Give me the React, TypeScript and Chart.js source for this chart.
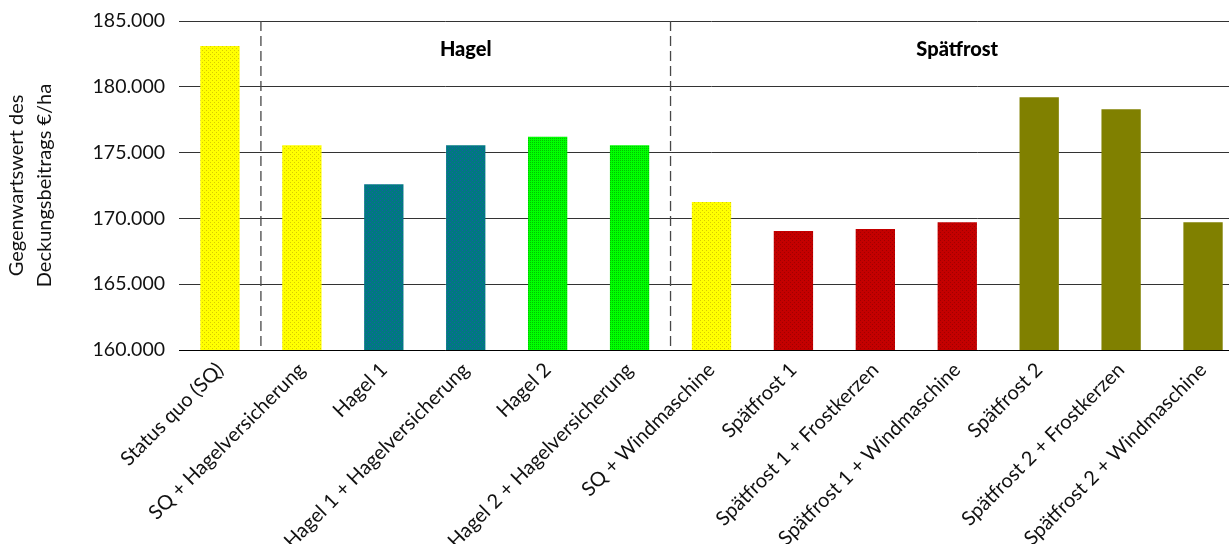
import React, { useEffect, useRef } from "react";
import { Chart, registerables } from "chart.js";

Chart.register(...registerables);

const categories = [
  "Status quo (SQ)",
  "SQ + Hagelversicherung",
  "Hagel 1",
  "Hagel 1 + Hagelversicherung",
  "Hagel 2",
  "Hagel 2 + Hagelversicherung",
  "SQ + Windmaschine",
  "Spätfrost 1",
  "Spätfrost 1 + Frostkerzen",
  "Spätfrost 1 + Windmaschine",
  "Spätfrost 2",
  "Spätfrost 2 + Frostkerzen",
  "Spätfrost 2 + Windmaschine",
];

const values = [
  183100, 175550, 172600, 175550, 176200, 175550, 171250, 169050, 169200,
  169700, 179200, 178300, 169700,
];

const colorKeys = [
  "yellow", "yellow", "teal", "teal", "green", "green", "yellow",
  "red", "red", "red", "olive", "olive", "olive",
];

const yTicks = { min: 160000, max: 185000, step: 5000 };

const yTitle = ["Gegenwartswert des", "Deckungsbeitrags €/ha"];

const groupTitles = ["Hagel", "Spätfrost"];
const groupRanges = [
  [1, 5],
  [6, 12],
];
const separatorsAfter = [0, 5];

function makePattern(base: string, dot: string, vertical = false) {
  const c = document.createElement("canvas");
  c.width = 4;
  c.height = 4;
  const g = c.getContext("2d")!;
  g.fillStyle = base;
  g.fillRect(0, 0, 4, 4);
  g.fillStyle = dot;
  if (vertical) {
    g.fillRect(0, 0, 1, 1);
    g.fillRect(0, 2, 1, 1);
    g.fillRect(2, 0, 1, 1);
    g.fillRect(2, 2, 1, 1);
  } else {
    g.fillRect(0, 0, 1, 1);
    g.fillRect(2, 2, 1, 1);
  }
  return g.createPattern(c, "repeat")!;
}

function formatDE(v: number) {
  return String(v).replace(/\B(?=(\d{3})+(?!\d))/g, ".");
}

const groupPlugin = {
  id: "groups",
  beforeDatasetsDraw(chart: any) {
    const { ctx, chartArea, scales } = chart;
    const x = scales.x;
    ctx.save();
    ctx.strokeStyle = "#484848";
    ctx.lineWidth = 1.3;
    ctx.setLineDash([10, 5]);
    separatorsAfter.forEach((i) => {
      const px = (x.getPixelForValue(i) + x.getPixelForValue(i + 1)) / 2;
      ctx.beginPath();
      ctx.moveTo(px, chartArea.top);
      ctx.lineTo(px, chartArea.bottom - 4);
      ctx.stroke();
    });
    ctx.setLineDash([]);
    ctx.fillStyle = "#000";
    ctx.font = "900 20px Lato";
    ctx.textAlign = "center";
    ctx.textBaseline = "middle";
    groupTitles.forEach((t, gi) => {
      const [a, b] = groupRanges[gi];
      const px = (x.getPixelForValue(a) + x.getPixelForValue(b)) / 2;
      ctx.fillText(t, px, chartArea.top + 29);
    });
    ctx.restore();
  },
};

export default function App() {
  const ref = useRef<HTMLCanvasElement>(null);
  useEffect(() => {
    document.documentElement.style.overflow = "hidden";
    document.body.style.margin = "0";
    document.body.style.overflow = "hidden";
    const patterns: Record<string, any> = {
      yellow: makePattern("#ffff00", "#d8cc00"),
      teal: makePattern("#007a80", "#1a58a8"),
      green: makePattern("#00ff00", "#00c000", true),
      red: makePattern("#c40000", "#a00000"),
      olive: "#808000",
    };
    const chart = new Chart(ref.current!, {
      type: "bar",
      data: {
        labels: categories,
        datasets: [
          {
            data: values,
            backgroundColor: colorKeys.map((k) => patterns[k]),
            barPercentage: 0.48,
            categoryPercentage: 1,
          },
        ],
      },
      options: {
        animation: false,
        responsive: true,
        maintainAspectRatio: false,
        layout: { padding: { top: 21, left: 0, right: 0, bottom: 0 } },
        plugins: { legend: { display: false }, tooltip: { enabled: false } },
        scales: {
          x: {
            grid: { display: false },
            border: { display: true, color: "#000", width: 1 },
            ticks: {
              autoSkip: false,
              maxRotation: 45,
              minRotation: 45,
              color: "#111",
              font: { family: "Lato", size: 20 },
              padding: 0,
            },
            afterFit: (s: any) => {
              s.height = 194;
            },
          },
          y: {
            min: yTicks.min,
            max: yTicks.max,
            grid: { color: "#333", lineWidth: 1, drawTicks: false },
            border: { display: false },
            ticks: {
              stepSize: yTicks.step,
              padding: 14,
              color: "#111",
              font: { family: "Lato", size: 19.5 },
              callback: (v: any) => formatDE(Number(v)),
            },
            title: {
              display: true,
              text: yTitle,
              color: "#111",
              font: { family: "Lato", size: 20, lineHeight: 1.42 },
              padding: { top: 2, bottom: 0 },
            },
            afterFit: (s: any) => {
              s.width = 179;
              s.paddingTop = 0;
              s.paddingBottom = 0;
            },
          },
        },
      },
      plugins: [groupPlugin],
    });
    return () => chart.destroy();
  }, []);
  return (
    <div style={{ position: "relative", width: 1244, height: 544 }}>
      <canvas ref={ref} />
    </div>
  );
}
